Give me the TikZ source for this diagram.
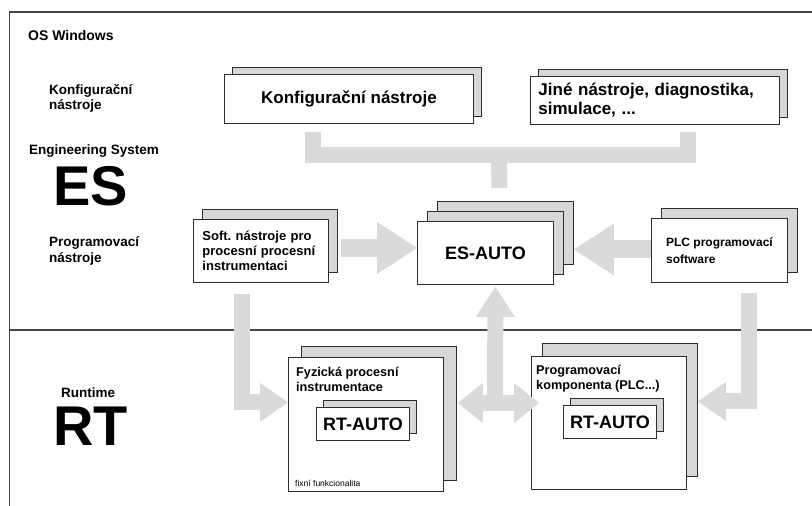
\documentclass[tikz,border=0pt]{standalone}
\usepackage{fontspec}
\setmainfont{Liberation Sans}
\usetikzlibrary{arrows.meta,shadows}
\frenchspacing

\definecolor{arrowgray}{RGB}{217,218,217}
\definecolor{backfill}{RGB}{214,215,214}
\definecolor{frameline}{RGB}{70,70,70}
\definecolor{boxline}{RGB}{45,45,45}

\begin{document}
\begin{tikzpicture}[x=1pt,y=-1pt,
  every node/.style={inner sep=0pt},
  frame/.style={draw=frameline, line width=1.5pt},
  card/.style={draw=boxline, line width=0.9pt, fill=white, anchor=north west},
  stack/.style 2 args={card, copy shadow={shadow xshift=#1pt, shadow yshift=#2pt,
      fill=backfill, draw=boxline, line width=0.9pt}},
  triplestack/.style={card, double copy shadow={shadow xshift=10pt, shadow yshift=10pt,
      fill=backfill, draw=boxline, line width=0.9pt}},
  lab/.style={anchor=west, align=left, font=\fontsize{13.5}{15}\selectfont\bfseries},
  flow/.style={draw=arrowgray, line width=#1, line join=miter, line cap=butt},
  bigarrow/.style={flow=18pt, -{Triangle[length=40pt, width=52pt, line width=0pt]}},
  smallarrow/.style={flow=16pt, -{Triangle[length=28pt, width=39pt, line width=0pt]}},
  uparrow/.style={flow=16pt, -{Triangle[length=30pt, width=39pt, line width=0pt]}},
  twoway/.style={flow=16pt, {Triangle[length=25pt, width=40pt, line width=0pt]}-{Triangle[length=25pt, width=40pt, line width=0pt]}}
]
\useasboundingbox (0,0) rectangle (812,506);

% outer frame and the ES / RT divider
\draw[frame] (812,12) -- (9.5,12) -- (9.5,506);
\draw[frame] (9.5,330) -- (812,330);

% side labels
\node[anchor=west, font=\fontsize{14}{16}\selectfont\bfseries] (oswin) at (28,35.5) {OS Windows};
\node[lab] (konflab) at (49,98.5) {Konfigurační\\nástroje};
\node[lab] (englab) at (29,151) {Engineering System};
\node[anchor=west, font=\fontsize{56}{60}\selectfont\bfseries] (eslab) at (53,186.5) {ES};
\node[lab, font=\fontsize{13.5}{16}\selectfont\bfseries] (proglab) at (49,251) {Programovací\\nástroje};
\node[lab] (rtlab) at (61,393) {Runtime};
\node[anchor=west, font=\fontsize{56}{60}\selectfont\bfseries] (rtbig) at (53,426) {RT};

% engineering tools
\node[stack={8}{7}, minimum width=249pt, minimum height=49pt,
      font=\fontsize{17}{19}\selectfont\bfseries] (konf) at (224,74) {Konfigurační nástroje};
\node[stack={8}{7}, minimum width=249pt, minimum height=48pt, text width=233pt, align=left,
      font=\fontsize{17}{19}\selectfont\bfseries] (jine) at (530,76) {Jiné nástroje, diagnostika,\\simulace, ...};
\node[triplestack, minimum width=136pt, minimum height=63pt,
      font=\fontsize{18}{20}\selectfont\bfseries] (es) at (417,221) {ES-AUTO};
\node[stack={9}{10}, minimum width=135pt, minimum height=63pt, text width=117pt, align=left,
      font=\fontsize{13}{15}\selectfont\bfseries] (soft) at (193,219) {Soft. nástroje pro\\procesní procesní\\instrumentaci};
\node[stack={10}{10}, minimum width=136pt, minimum height=64pt, align=left,
      font=\fontsize{12}{17}\selectfont\bfseries] (plc) at (651,218) {PLC programovací\\software};

% runtime components
\node[stack={13}{11}, minimum width=155pt, minimum height=134pt] (fyz) at (288,357) {};
\node[stack={11}{13}, minimum width=155pt, minimum height=133pt] (prog) at (531,356) {};
\node[anchor=west, align=left, font=\fontsize{12.7}{15}\selectfont\bfseries] (fyztitle) at (296,379.5) {Fyzická procesní\\instrumentace};
\node[anchor=west, align=left, font=\fontsize{12.7}{15}\selectfont\bfseries] (progtitle) at (536,379) {Programovací\\komponenta (PLC...)};
\node[stack={7}{7}, minimum width=93pt, minimum height=33pt,
      font=\fontsize{18}{20}\selectfont\bfseries] (fyzrt) at (316,407) {RT-AUTO};
\node[stack={7}{7}, minimum width=93pt, minimum height=33pt,
      font=\fontsize{18}{20}\selectfont\bfseries] (progrt) at (563,405) {RT-AUTO};
\node[anchor=west, font=\fontsize{8.5}{10}\selectfont] (fixed) at (295,483) {fixní funkcionalita};

% ports used by the flows
\coordinate (konfdrop) at ([xshift=88.5pt,yshift=-8pt]konf.south west);
\coordinate (jinedrop) at ([xshift=158pt,yshift=-7pt]jine.south west);
\coordinate (joint) at (499,155);
\coordinate (esfeed) at ([xshift=14pt,yshift=33pt]es.north);
\coordinate (softport) at ([xshift=12pt,yshift=3pt]soft.east);
\coordinate (plcport) at ([yshift=1pt]plc.west);
\coordinate (esback) at ([xshift=20pt]es.east);
\coordinate (softdrop) at ([xshift=-19pt,yshift=-11pt]soft.south);
\coordinate (plcdrop) at ([xshift=30pt,yshift=-10pt]plc.south);
\coordinate (hub) at (495,403);
\coordinate (fyzport) at ([xshift=14pt]fyz.east);
\coordinate (progport) at ([xshift=8pt]prog.west);

% flows
\draw[flow=16pt] (konfdrop) |- (joint) -| (jinedrop);
\draw[flow=16pt] (joint) -- (esfeed);
\draw[bigarrow] (softport) -- (softport -| es.west);
\draw[bigarrow] (plcport) -- (plcport -| esback);
\draw[smallarrow] (softdrop) |- ([yshift=22pt]fyz.west);
\draw[smallarrow] (plcdrop) |- ([xshift=11pt,yshift=21.5pt]prog.east);
\draw[twoway] (fyzport |- hub) -- (progport |- hub);
\draw[uparrow] (hub) -- ([xshift=10pt,yshift=-2pt]es.south);
\end{tikzpicture}
\end{document}
